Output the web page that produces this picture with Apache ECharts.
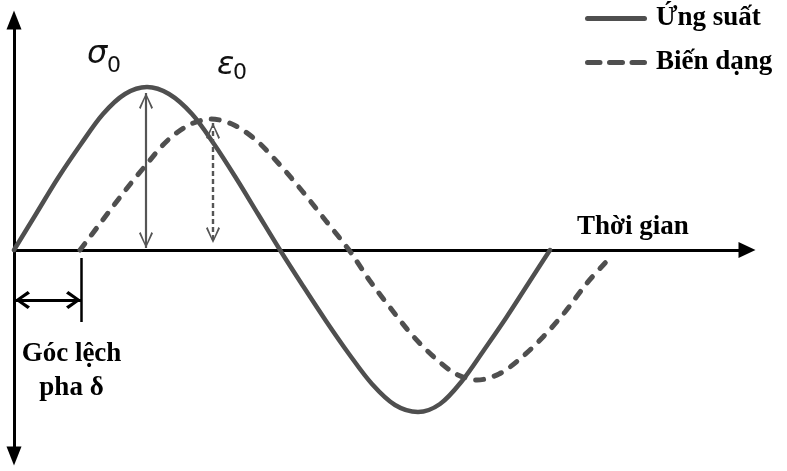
<!DOCTYPE html>
<html><head><meta charset="utf-8">
<script src="https://cdn.jsdelivr.net/npm/echarts@6/dist/echarts.min.js"></script>
<style>html,body{margin:0;padding:0;background:#fff}#c{width:787px;height:471px}</style>
</head><body><div id="c"></div>
<script>
// ---- data ----
const seriesNames = ['Ứng suất', 'Biến dạng'];
const stressTime   = [0, 22, 44, 67, 89, 111, 133, 155, 178, 200, 222, 244, 266, 289, 312, 335, 358, 381, 404, 426, 448, 470, 492, 514, 536];
const stressValues = [0, 36, 72, 106, 136, 156, 163, 156, 136, 106, 72, 36, 0, -36, -71, -104, -134, -155, -162, -154, -131, -100, -68, -34, 0];
const strainTime   = [66, 88, 110, 132, 153, 175, 197, 220, 243, 266, 289, 312, 335, 356, 378, 399, 421, 442, 463, 485, 507, 529, 551, 573, 592];
const strainValues = [0, 29, 58, 85, 109, 125, 131, 125, 109, 85, 58, 29, 0, -31, -60, -86, -108, -124, -130, -124, -108, -87, -62, -33, -12];
// amplitude arrows: [time, top value, bottom value]
const sigmaArrow = [132, 157, 2];
const epsArrow = [199, 127, 7];
// phase lag marker: [start time, end time, level], tick [time, from, to]
const phaseArrow = [1, 67, -50];
const phaseTick = [67, -8, -72];
const labelsText = { time: 'Thời gian', sigma: 'σ', eps: 'ε', sub: '0', phase1: 'Góc lệch', phase2: 'pha δ' };

const lineColor = '#4f4f4f';
const chevronThin = 'path://M0,-16M0,0L7,15L5.4,16.2L0,3.2L-5.4,16.2L-7,15Z';
const chevronBold = 'path://M0,-15M0,0L9,12.5L6.6,14.8L0,5L-6.6,14.8L-9,12.5Z';
const iconSolid = 'path://M2.5,0H59.5A2.5,2.5,0,0,1,59.5,5H2.5A2.5,2.5,0,0,1,2.5,0Z';
const iconDashed = 'path://M2.5,0H15A2.5,2.5,0,0,1,15,5H2.5A2.5,2.5,0,0,1,2.5,0Z M24.5,0H37.5A2.5,2.5,0,0,1,37.5,5H24.5A2.5,2.5,0,0,1,24.5,0Z M47,0H59.5A2.5,2.5,0,0,1,59.5,5H47A2.5,2.5,0,0,1,47,0Z';
const serif = 'Liberation Serif';

const chart = echarts.init(document.getElementById('c'), null, { renderer: 'canvas' });
const option = {
  animation: false,
  backgroundColor: '#fff',
  grid: { left: 14, right: 40, top: 20, bottom: 15 },
  legend: {
    data: [{ name: seriesNames[0], icon: iconSolid }, { name: seriesNames[1], icon: iconDashed }],
    orient: 'vertical', left: 580, top: 0,
    itemWidth: 62, itemHeight: 5, itemGap: 17,
    textStyle: { fontFamily: serif, fontWeight: 'bold', fontSize: 27, color: '#000', padding: [0, 0, 0, 4] }
  },
  xAxis: {
    type: 'value', min: 0, max: 733,
    axisLine: { onZero: true, lineStyle: { color: '#000', width: 3 }, symbol: ['none', 'triangle'], symbolSize: [16, 17] },
    axisTick: { show: false }, axisLabel: { show: false }, splitLine: { show: false }
  },
  yAxis: {
    type: 'value', min: -206, max: 230,
    axisLine: { show: true, lineStyle: { color: '#000', width: 3 }, symbol: ['triangle', 'triangle'], symbolSize: [15, 19] },
    axisTick: { show: false }, axisLabel: { show: false }, splitLine: { show: false }
  },
  series: [
    {
      name: seriesNames[0], type: 'line', smooth: 0.33, symbol: 'none',
      data: stressTime.map((t, i) => [t, stressValues[i]]),
      lineStyle: { color: lineColor, width: 4.5, cap: 'round' }, itemStyle: { color: lineColor },
      markLine: {
        silent: true, animation: false, label: { show: false }, emphasis: { disabled: true },
        data: [
          [
            { coord: [sigmaArrow[0], sigmaArrow[1]], symbol: chevronThin, symbolSize: [14, 32], lineStyle: { color: '#555', width: 2.2, type: 'solid' } },
            { coord: [sigmaArrow[0], sigmaArrow[2]], symbol: chevronThin, symbolSize: [14, 32] }
          ],
          [
            { coord: [epsArrow[0], epsArrow[1]], symbol: chevronThin, symbolSize: [14, 32], lineStyle: { color: '#555', width: 2.4, type: [5, 3] } },
            { coord: [epsArrow[0], epsArrow[2]], symbol: chevronThin, symbolSize: [14, 32] }
          ],
          [
            { coord: [phaseArrow[0], phaseArrow[2]], symbol: chevronBold, symbolSize: [18, 30], lineStyle: { color: '#000', width: 3, type: 'solid' } },
            { coord: [phaseArrow[1], phaseArrow[2]], symbol: chevronBold, symbolSize: [18, 30] }
          ],
          [
            { coord: [phaseTick[0], phaseTick[1]], symbol: 'none', lineStyle: { color: '#000', width: 2.5, type: 'solid' } },
            { coord: [phaseTick[0], phaseTick[2]], symbol: 'none' }
          ]
        ]
      }
    },
    {
      name: seriesNames[1], type: 'line', smooth: 0.33, symbol: 'none',
      data: strainTime.map((t, i) => [t, strainValues[i]]),
      lineStyle: { color: lineColor, width: 5, type: [8, 11], cap: 'round' }, itemStyle: { color: lineColor }
    }
  ],
  graphic: [
    { type: 'text', x: 577, y: 227, style: { text: labelsText.time, fontFamily: serif, fontWeight: 'bold', fontSize: 27, fill: '#000', align: 'left', verticalAlign: 'middle' } },
    { type: 'text', x: 71.5, y: 354, style: { text: labelsText.phase1, fontFamily: serif, fontWeight: 'bold', fontSize: 27, fill: '#000', align: 'center', verticalAlign: 'middle' } },
    { type: 'text', x: 71.5, y: 388, style: { text: labelsText.phase2, fontFamily: serif, fontWeight: 'bold', fontSize: 27, fill: '#000', align: 'center', verticalAlign: 'middle' } },
    { type: 'text', x: 87, y: 55, style: { text: labelsText.sigma, fontFamily: 'DejaVu Sans', fontStyle: 'italic', fontSize: 32, fill: '#111', align: 'left', verticalAlign: 'middle' } },
    { type: 'text', x: 107, y: 66, style: { text: labelsText.sub, fontFamily: 'DejaVu Sans', fontSize: 22, fill: '#111', align: 'left', verticalAlign: 'middle' } },
    { type: 'text', x: 217, y: 66, style: { text: labelsText.eps, fontFamily: 'DejaVu Sans', fontStyle: 'italic', fontSize: 32, fill: '#111', align: 'left', verticalAlign: 'middle' } },
    { type: 'text', x: 233, y: 73.5, style: { text: labelsText.sub, fontFamily: 'DejaVu Sans', fontSize: 22, fill: '#111', align: 'left', verticalAlign: 'middle' } }
  ]
};
chart.setOption(option);
</script>
</body></html>
